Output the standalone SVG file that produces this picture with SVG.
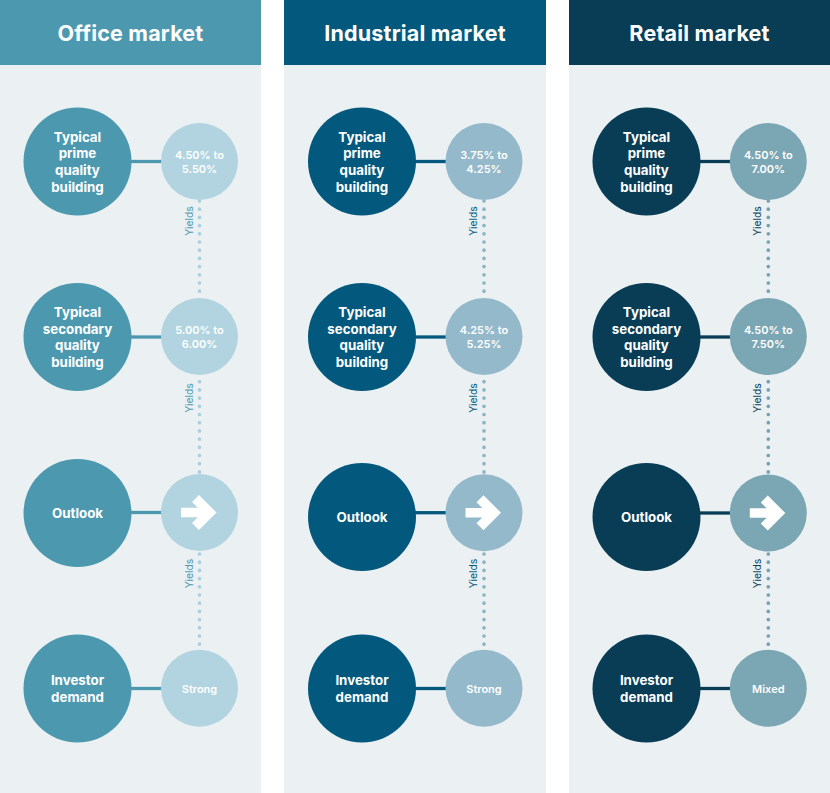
<svg xmlns="http://www.w3.org/2000/svg" xmlns:xlink="http://www.w3.org/1999/xlink" width="830" height="793" viewBox="0 0 830 793">
<style>
.panel{fill:#ebf0f3}
.hdr{font-family:Inter,"Liberation Sans",sans-serif;font-weight:700;font-size:21.5px;fill:#ffffff;text-anchor:middle;letter-spacing:0.2px}
.big{font-family:Inter,"Liberation Sans",sans-serif;font-weight:700;font-size:13.3px;fill:#ffffff;text-anchor:middle}
.sm{font-family:Inter,"Liberation Sans",sans-serif;font-weight:600;font-size:11px;fill:#ffffff;text-anchor:middle}
.yl{font-family:Inter,"Liberation Sans",sans-serif;font-weight:400;font-size:10.3px;text-anchor:middle}
.o1{fill:#4c99af}.o2{fill:#b1d4e0}
.i1{fill:#03597d}.i2{fill:#93b9ca}
.r1{fill:#083d55}.r2{fill:#7ba6b4}
.dots{fill:none;stroke-width:3.7;stroke-linecap:round;stroke-dasharray:0 8.2}
.link{stroke-width:3.3}
</style>
<defs>
<polygon id="arrowIcon" fill="#ffffff" points="-18.5,-4.7 -1.7,-4.7 -7.5,-10.5 -0.5,-17.5 17,0 -0.5,17.5 -7.5,10.5 -1.7,4.7 -18.5,4.7"/>
</defs>
<rect width="830" height="793" fill="#ffffff"/>
<g id="panels">
<rect class="panel" x="0" y="0" width="261" height="793"/>
<rect class="panel" x="284" y="0" width="262" height="793"/>
<rect class="panel" x="569" y="0" width="261" height="793"/>
<rect class="o1" x="0" y="0" width="261" height="65"/>
<rect class="i1" x="284" y="0" width="262" height="65"/>
<rect class="r1" x="569" y="0" width="261" height="65"/>
<text class="hdr" x="130.5" y="40.5">Office market</text>
<text class="hdr" x="415" y="40.5">Industrial market</text>
<text class="hdr" x="699.5" y="40.5">Retail market</text>
</g>
<g id="connectors">
<g stroke="#4c99af" class="link">
<line x1="131" y1="161.5" x2="162" y2="161.5"/>
<line x1="131" y1="337" x2="162" y2="337"/>
<line x1="131" y1="512.5" x2="162" y2="512.5"/>
<line x1="131" y1="688.5" x2="162" y2="688.5"/>
</g>
<g stroke="#03597d" class="link">
<line x1="415" y1="161.5" x2="446" y2="161.5"/>
<line x1="415" y1="337" x2="446" y2="337"/>
<line x1="415" y1="512.7" x2="446" y2="512.7"/>
<line x1="415" y1="688.5" x2="446" y2="688.5"/>
</g>
<g stroke="#083d55" class="link">
<line x1="700" y1="161.5" x2="731" y2="161.5"/>
<line x1="700" y1="337" x2="731" y2="337"/>
<line x1="700" y1="513" x2="731" y2="513"/>
<line x1="700" y1="688.5" x2="731" y2="688.5"/>
</g>
<g class="dots" stroke="#abd0dd">
<line x1="199.5" y1="201" x2="199.5" y2="298"/>
<line x1="199.5" y1="381.7" x2="199.5" y2="474"/>
<line x1="199.5" y1="554" x2="199.5" y2="650"/>
</g>
<g class="dots" stroke="#8db4c6">
<line x1="484" y1="201" x2="484" y2="298"/>
<line x1="484" y1="381.7" x2="484" y2="474"/>
<line x1="484" y1="554" x2="484" y2="650"/>
</g>
<g class="dots" stroke="#76a2b1">
<line x1="768.3" y1="201" x2="768.3" y2="298"/>
<line x1="768.3" y1="381.7" x2="768.3" y2="474"/>
<line x1="768.3" y1="554" x2="768.3" y2="650"/>
</g>
<g class="yl">
<text class="o1" transform="translate(193,221) rotate(-90)">Yields</text>
<text class="o1" transform="translate(193,398) rotate(-90)">Yields</text>
<text class="o1" transform="translate(193,573.5) rotate(-90)">Yields</text>
<text class="i1" transform="translate(476.5,221) rotate(-90)">Yields</text>
<text class="i1" transform="translate(476.5,398) rotate(-90)">Yields</text>
<text class="i1" transform="translate(476.5,573.5) rotate(-90)">Yields</text>
<text class="r1" transform="translate(761,221) rotate(-90)">Yields</text>
<text class="r1" transform="translate(761,398) rotate(-90)">Yields</text>
<text class="r1" transform="translate(761,573.5) rotate(-90)">Yields</text>
</g>
</g>
<!-- Office -->
<g id="office-prime"><circle class="o1" cx="77.5" cy="161.5" r="54"/><text class="big"><tspan x="77.5" y="141.5">Typical</tspan><tspan x="77.5" y="158.2">prime</tspan><tspan x="77.5" y="174.9">quality</tspan><tspan x="77.5" y="191.6">building</tspan></text></g>
<g id="office-prime-yield"><circle class="o2" cx="199.5" cy="161.5" r="38.5"/><text class="sm"><tspan x="199.5" y="159.3">4.50% to</tspan><tspan x="199.5" y="173.3">5.50%</tspan></text></g>
<g id="office-secondary"><circle class="o1" cx="77.5" cy="337" r="54"/><text class="big"><tspan x="77.5" y="317">Typical</tspan><tspan x="77.5" y="333.7">secondary</tspan><tspan x="77.5" y="350.4">quality</tspan><tspan x="77.5" y="367.1">building</tspan></text></g>
<g id="office-secondary-yield"><circle class="o2" cx="199.5" cy="336.5" r="38.5"/><text class="sm"><tspan x="199.5" y="334">5.00% to</tspan><tspan x="199.5" y="348">6.00%</tspan></text></g>
<g id="office-outlook"><circle class="o1" cx="77.5" cy="513" r="54"/><text class="big" x="77.5" y="517.5">Outlook</text></g>
<g id="office-outlook-icon"><circle class="o2" cx="199.5" cy="512.5" r="38.5"/><use xlink:href="#arrowIcon" href="#arrowIcon" transform="translate(199.5,512.5)"/></g>
<g id="office-demand"><circle class="o1" cx="77.5" cy="688.5" r="54"/><text class="big"><tspan x="77.5" y="685.2">Investor</tspan><tspan x="77.5" y="701.8">demand</tspan></text></g>
<g id="office-demand-value"><circle class="o2" cx="199.5" cy="688.3" r="38.5"/><text class="sm" x="199.5" y="693">Strong</text></g>
<!-- Industrial -->
<g id="industrial-prime"><circle class="i1" cx="362" cy="161.5" r="54"/><text class="big"><tspan x="362" y="141.5">Typical</tspan><tspan x="362" y="158.2">prime</tspan><tspan x="362" y="174.9">quality</tspan><tspan x="362" y="191.6">building</tspan></text></g>
<g id="industrial-prime-yield"><circle class="i2" cx="484" cy="161.5" r="38.5"/><text class="sm"><tspan x="484" y="159.3">3.75% to</tspan><tspan x="484" y="173.3">4.25%</tspan></text></g>
<g id="industrial-secondary"><circle class="i1" cx="362" cy="337" r="54"/><text class="big"><tspan x="362" y="317">Typical</tspan><tspan x="362" y="333.7">secondary</tspan><tspan x="362" y="350.4">quality</tspan><tspan x="362" y="367.1">building</tspan></text></g>
<g id="industrial-secondary-yield"><circle class="i2" cx="484" cy="336.5" r="38.5"/><text class="sm"><tspan x="484" y="334">4.25% to</tspan><tspan x="484" y="348">5.25%</tspan></text></g>
<g id="industrial-outlook"><circle class="i1" cx="362" cy="517" r="54"/><text class="big" x="362" y="521.5">Outlook</text></g>
<g id="industrial-outlook-icon"><circle class="i2" cx="484" cy="512.7" r="38.5"/><use xlink:href="#arrowIcon" href="#arrowIcon" transform="translate(484,512.7)"/></g>
<g id="industrial-demand"><circle class="i1" cx="362" cy="688.5" r="54"/><text class="big"><tspan x="362" y="685.2">Investor</tspan><tspan x="362" y="701.8">demand</tspan></text></g>
<g id="industrial-demand-value"><circle class="i2" cx="484" cy="688.3" r="38.5"/><text class="sm" x="484" y="693">Strong</text></g>
<!-- Retail -->
<g id="retail-prime"><circle class="r1" cx="646.5" cy="161.5" r="54"/><text class="big"><tspan x="646.5" y="141.5">Typical</tspan><tspan x="646.5" y="158.2">prime</tspan><tspan x="646.5" y="174.9">quality</tspan><tspan x="646.5" y="191.6">building</tspan></text></g>
<g id="retail-prime-yield"><circle class="r2" cx="768.3" cy="161.5" r="38.5"/><text class="sm"><tspan x="768.3" y="159.3">4.50% to</tspan><tspan x="768.3" y="173.3">7.00%</tspan></text></g>
<g id="retail-secondary"><circle class="r1" cx="646.5" cy="337" r="54"/><text class="big"><tspan x="646.5" y="317">Typical</tspan><tspan x="646.5" y="333.7">secondary</tspan><tspan x="646.5" y="350.4">quality</tspan><tspan x="646.5" y="367.1">building</tspan></text></g>
<g id="retail-secondary-yield"><circle class="r2" cx="768.3" cy="336.5" r="38.5"/><text class="sm"><tspan x="768.3" y="334">4.50% to</tspan><tspan x="768.3" y="348">7.50%</tspan></text></g>
<g id="retail-outlook"><circle class="r1" cx="646.5" cy="517" r="54"/><text class="big" x="646.5" y="521.5">Outlook</text></g>
<g id="retail-outlook-icon"><circle class="r2" cx="768.3" cy="513" r="38.5"/><use xlink:href="#arrowIcon" href="#arrowIcon" transform="translate(768.3,513)"/></g>
<g id="retail-demand"><circle class="r1" cx="646.5" cy="688.5" r="54"/><text class="big"><tspan x="646.5" y="685.2">Investor</tspan><tspan x="646.5" y="701.8">demand</tspan></text></g>
<g id="retail-demand-value"><circle class="r2" cx="768.3" cy="688.3" r="38.5"/><text class="sm" x="768.3" y="693">Mixed</text></g>
</svg>
